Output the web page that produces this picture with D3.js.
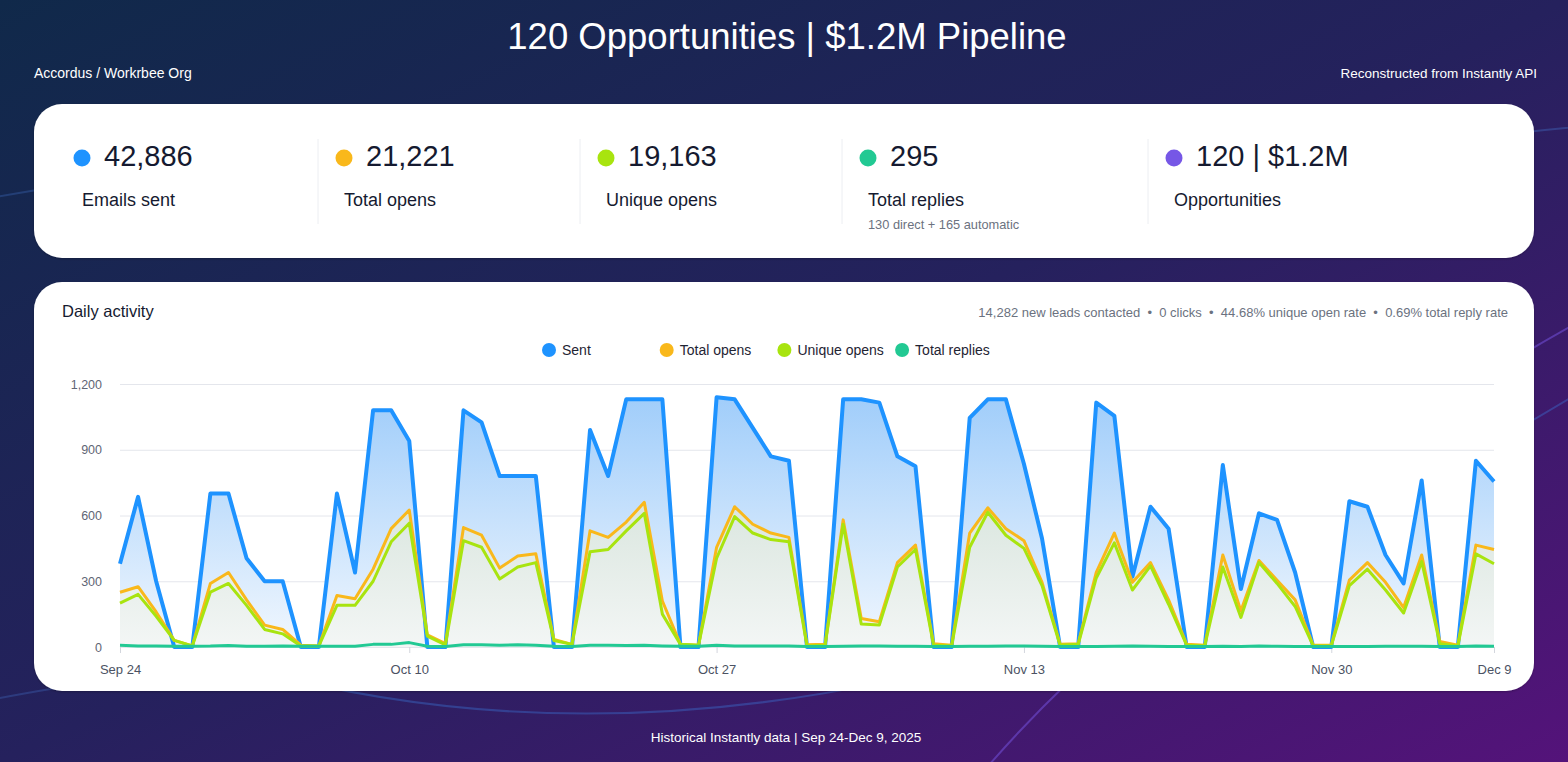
<!DOCTYPE html>
<html>
<head>
<meta charset="utf-8">
<script src="https://cdn.jsdelivr.net/npm/d3@7"></script>
<style>
  html, body { margin: 0; padding: 0; background: #1b2352; }
  svg { display: block; font-family: "Liberation Sans", Arial, Helvetica, sans-serif; }
</style>
</head>
<body>
<div id="chart"></div>
<script>
// Daily values, Sep 24 -> Dec 9, 2025 (77 days)
const sent = [380, 685, 300, 0, 0, 700, 700, 405, 300, 300,
  0, 0, 700, 340, 1080, 1080, 940, 0, 0, 1080,
  1025, 780, 780, 780, 0, 0, 990, 780, 1130, 1130,
  1130, 0, 0, 1140, 1130, 1000, 870, 850, 0, 0,
  1130, 1130, 1115, 870, 825, 0, 0, 1045, 1130, 1130,
  835, 495, 0, 0, 1115, 1055, 320, 640, 540, 0,
  0, 830, 265, 610, 580, 340, 0, 0, 665, 640,
  420, 290, 760, 0, 0, 850, 755];

const totalOpens = [250, 275, 160, 30, 5, 290, 340, 215, 100, 80,
  8, 5, 235, 220, 355, 540, 625, 55, 15, 545,
  510, 360, 415, 425, 35, 12, 530, 500, 570, 660,
  210, 12, 8, 455, 640, 560, 520, 500, 10, 12,
  580, 130, 115, 385, 465, 15, 8, 520, 635, 540,
  485, 295, 12, 15, 340, 520, 295, 385, 215, 12,
  8, 420, 165, 395, 305, 215, 8, 8, 305, 385,
  295, 180, 420, 25, 8, 465, 445];

const uniqueOpens = [200, 240, 140, 30, 5, 250, 290, 190, 80, 60,
  5, 5, 190, 190, 300, 480, 565, 50, 10, 485,
  455, 310, 365, 385, 30, 12, 435, 445, 530, 610,
  150, 12, 8, 405, 595, 520, 490, 480, 5, 8,
  560, 105, 100, 365, 445, 8, 5, 455, 615, 510,
  450, 280, 8, 12, 315, 475, 260, 370, 195, 8,
  5, 365, 135, 385, 290, 185, 5, 5, 280, 355,
  260, 155, 390, 15, 5, 425, 380];

const replies = [8, 5, 4, 3, 3, 4, 7, 3, 3, 4,
  3, 3, 3, 3, 12, 12, 20, 3, 2, 10,
  10, 8, 10, 8, 3, 2, 8, 8, 7, 8,
  5, 3, 3, 8, 5, 5, 5, 4, 2, 2,
  3, 4, 4, 3, 3, 2, 2, 3, 3, 4,
  5, 3, 2, 2, 2, 3, 4, 3, 2, 2,
  2, 3, 2, 4, 3, 2, 2, 2, 2, 2,
  3, 3, 3, 2, 2, 4, 3];

const days = d3.utcDay.range(Date.UTC(2025, 8, 24), Date.UTC(2025, 11, 10));

const tickDates = [Date.UTC(2025, 8, 24), Date.UTC(2025, 9, 10), Date.UTC(2025, 9, 27),
  Date.UTC(2025, 10, 13), Date.UTC(2025, 10, 30), Date.UTC(2025, 11, 9)];
const tickLabels = ["Sep 24", "Oct 10", "Oct 27", "Nov 13", "Nov 30", "Dec 9"];
const yTicks = [0, 300, 600, 900, 1200];

const kpiValues = ["42,886", "21,221", "19,163", "295", "120 | $1.2M"];
const kpiLabels = ["Emails sent", "Total opens", "Unique opens", "Total replies", "Opportunities"];
const kpiColors = ["#1e93ff", "#f9b81b", "#a8e40f", "#22c993", "#7657e6"];

const legendNames = ["Sent", "Total opens", "Unique opens", "Total replies"];
const seriesColors = ["#1e93ff", "#f9b81b", "#a8e40f", "#22c993"];

const W = 1568, H = 762;

const svg = d3.select("#chart").append("svg")
  .attr("width", W)
  .attr("height", H);

const defs = svg.append("defs");

const bg = defs.append("linearGradient").attr("id", "bg")
  .attr("x1", 0).attr("y1", 0).attr("x2", 1).attr("y2", 1);
bg.append("stop").attr("offset", "0%").attr("stop-color", "#10294a");
bg.append("stop").attr("offset", "50%").attr("stop-color", "#25215d");
bg.append("stop").attr("offset", "100%").attr("stop-color", "#54137a");

const shadow = defs.append("filter").attr("id", "shadow")
  .attr("x", "-5%").attr("y", "-5%").attr("width", "110%").attr("height", "115%");
shadow.append("feDropShadow").attr("dx", 0).attr("dy", 1).attr("stdDeviation", 1)
  .attr("flood-color", "#000").attr("flood-opacity", 0.25);

defs.append("clipPath").attr("id", "decoClip")
  .append("rect").attr("x", 34).attr("y", 0).attr("width", W).attr("height", H);

// plot area
const margin = { left: 120, right: 1494, top: 384, bottom: 647 };

const x = d3.scaleUtc()
  .domain([days[0], days[days.length - 1]])
  .range([margin.left, margin.right]);

const y = d3.scaleLinear()
  .domain([0, 1200])
  .range([margin.bottom, margin.top]);

const gSent = defs.append("linearGradient").attr("id", "gSent")
  .attr("gradientUnits", "userSpaceOnUse")
  .attr("x1", 0).attr("y1", margin.top).attr("x2", 0).attr("y2", margin.bottom);
gSent.append("stop").attr("offset", "0%").attr("stop-color", "#9ccbfa");
gSent.append("stop").attr("offset", "100%").attr("stop-color", "#f1f7fe");

const gOpen = defs.append("linearGradient").attr("id", "gOpen")
  .attr("gradientUnits", "userSpaceOnUse")
  .attr("x1", 0).attr("y1", margin.top).attr("x2", 0).attr("y2", margin.bottom);
gOpen.append("stop").attr("offset", "0%").attr("stop-color", "#c6d9cd");
gOpen.append("stop").attr("offset", "100%").attr("stop-color", "#f3f6f5");

// background
svg.append("rect").attr("width", W).attr("height", H).attr("fill", "url(#bg)");

// faint decorative curves
const deco = svg.append("g").attr("fill", "none").attr("stroke-width", 2);
deco.append("path").attr("d", "M -20,560 Q 690,940 1600,380")
  .attr("clip-path", "url(#decoClip)")
  .attr("stroke", "rgba(60,130,230,0.35)");
deco.append("path").attr("d", "M 960,800 Q 1150,560 1600,310")
  .attr("stroke", "rgba(120,85,230,0.5)");
deco.append("path").attr("d", "M 1250,175 Q 1420,140 1600,125")
  .attr("stroke", "rgba(70,120,210,0.35)");
deco.append("path").attr("d", "M -20,200 Q 60,185 200,165")
  .attr("stroke", "rgba(70,120,210,0.3)");
deco.append("path").attr("d", "M -10,700 Q 40,690 120,678")
  .attr("stroke", "rgba(70,120,210,0.3)");

// header
svg.append("text")
  .attr("x", 787).attr("y", 49)
  .attr("text-anchor", "middle")
  .attr("fill", "#fff")
  .attr("font-size", 36.5)
  .text("120 Opportunities | $1.2M Pipeline");

svg.append("text")
  .attr("x", 34).attr("y", 78)
  .attr("fill", "#fff")
  .attr("font-size", 14)
  .text("Accordus / Workrbee Org");

svg.append("text")
  .attr("x", 1537).attr("y", 78)
  .attr("text-anchor", "end")
  .attr("fill", "#fff")
  .attr("font-size", 13.5)
  .text("Reconstructed from Instantly API");

// KPI card
svg.append("rect")
  .attr("x", 34).attr("y", 104).attr("width", 1500).attr("height", 154)
  .attr("rx", 28)
  .attr("fill", "#fff")
  .attr("filter", "url(#shadow)");

const kpiX = [82, 344, 606, 868, 1174];
const kpi = svg.selectAll(".kpi")
  .data(kpiValues)
  .enter()
  .append("g")
  .attr("class", "kpi")
  .attr("transform", (d, i) => "translate(" + kpiX[i] + ",0)");

kpi.append("circle")
  .attr("cx", 0).attr("cy", 158).attr("r", 8.5)
  .attr("fill", (d, i) => kpiColors[i]);

kpi.append("text")
  .attr("x", 22).attr("y", 166)
  .attr("fill", "#151a30")
  .attr("font-size", 29)
  .text(d => d);

kpi.append("text")
  .attr("x", 0).attr("y", 206)
  .attr("fill", "#151a30")
  .attr("font-size", 18)
  .text((d, i) => kpiLabels[i]);

svg.append("text")
  .attr("x", 868).attr("y", 229)
  .attr("fill", "#6b7280")
  .attr("font-size", 12.8)
  .text("130 direct + 165 automatic");

svg.selectAll(".divider")
  .data([318, 580, 842, 1148])
  .enter()
  .append("line")
  .attr("class", "divider")
  .attr("x1", d => d).attr("x2", d => d)
  .attr("y1", 139).attr("y2", 224)
  .attr("stroke", "#eceef2")
  .attr("stroke-width", 1);

// chart card
svg.append("rect")
  .attr("x", 34).attr("y", 282).attr("width", 1500).attr("height", 409)
  .attr("rx", 28)
  .attr("fill", "#fff")
  .attr("filter", "url(#shadow)");

svg.append("text")
  .attr("x", 62).attr("y", 317)
  .attr("fill", "#151a30")
  .attr("font-size", 16.5)
  .text("Daily activity");

svg.append("text")
  .attr("x", 1508).attr("y", 316.5)
  .attr("text-anchor", "end")
  .attr("fill", "#6b7280")
  .attr("font-size", 13)
  .style("white-space", "pre")
  .text("14,282 new leads contacted  \u2022  0 clicks  \u2022  44.68% unique open rate  \u2022  0.69% total reply rate");

// legend
const legend = svg.selectAll(".legend")
  .data(legendNames)
  .enter()
  .append("g")
  .attr("class", "legend")
  .attr("transform", (d, i) => "translate(" + (549 + i * 117.7) + ",350)");

legend.append("circle")
  .attr("r", 7)
  .attr("fill", (d, i) => seriesColors[i]);

legend.append("text")
  .attr("x", 13).attr("dy", "0.35em")
  .attr("fill", "#1f2433")
  .attr("font-size", 14)
  .text(d => d);

// axes
const yAxis = svg.append("g")
  .attr("transform", "translate(" + margin.left + ",0)")
  .call(d3.axisLeft(y)
    .tickValues(yTicks)
    .tickFormat(d3.format(","))
    .tickSize(-(margin.right - margin.left))
    .tickPadding(18));
yAxis.select(".domain").remove();
yAxis.selectAll("line").attr("stroke", "#e4e6ec");
yAxis.selectAll("text")
  .attr("fill", "#5f6675")
  .attr("font-size", 12.5)
  .attr("font-family", "Liberation Sans, Arial, sans-serif");

const xAxis = svg.append("g")
  .attr("transform", "translate(0," + margin.bottom + ")")
  .call(d3.axisBottom(x)
    .tickValues(tickDates.map(d => new Date(d)))
    .tickFormat((d, i) => tickLabels[i])
    .tickSize(6)
    .tickPadding(12));
xAxis.select(".domain").remove();
xAxis.selectAll("line").attr("stroke", "#d3d6dd");
xAxis.selectAll("text")
  .attr("fill", "#4b5263")
  .attr("font-size", 13)
  .attr("font-family", "Liberation Sans, Arial, sans-serif");

// areas
const area = d3.area()
  .x((d, i) => x(days[i]))
  .y0(y(0))
  .y1(d => y(d));

svg.append("path")
  .datum(sent)
  .attr("d", area)
  .attr("fill", "url(#gSent)");

svg.append("path")
  .datum(totalOpens)
  .attr("d", area)
  .attr("fill", "url(#gOpen)");

// lines
const line = d3.line()
  .x((d, i) => x(days[i]))
  .y(d => y(d));

const series = [sent, totalOpens, uniqueOpens, replies];
const widths = [4, 3, 3, 3];

svg.selectAll(".series")
  .data(series)
  .enter()
  .append("path")
  .attr("class", "series")
  .attr("d", line)
  .attr("fill", "none")
  .attr("stroke", (d, i) => seriesColors[i])
  .attr("stroke-width", (d, i) => widths[i])
  .attr("stroke-linejoin", "round");

// footer
svg.append("text")
  .attr("x", 786).attr("y", 742)
  .attr("text-anchor", "middle")
  .attr("fill", "#fff")
  .attr("font-size", 13.5)
  .text("Historical Instantly data | Sep 24-Dec 9, 2025");
</script>
</body>
</html>
